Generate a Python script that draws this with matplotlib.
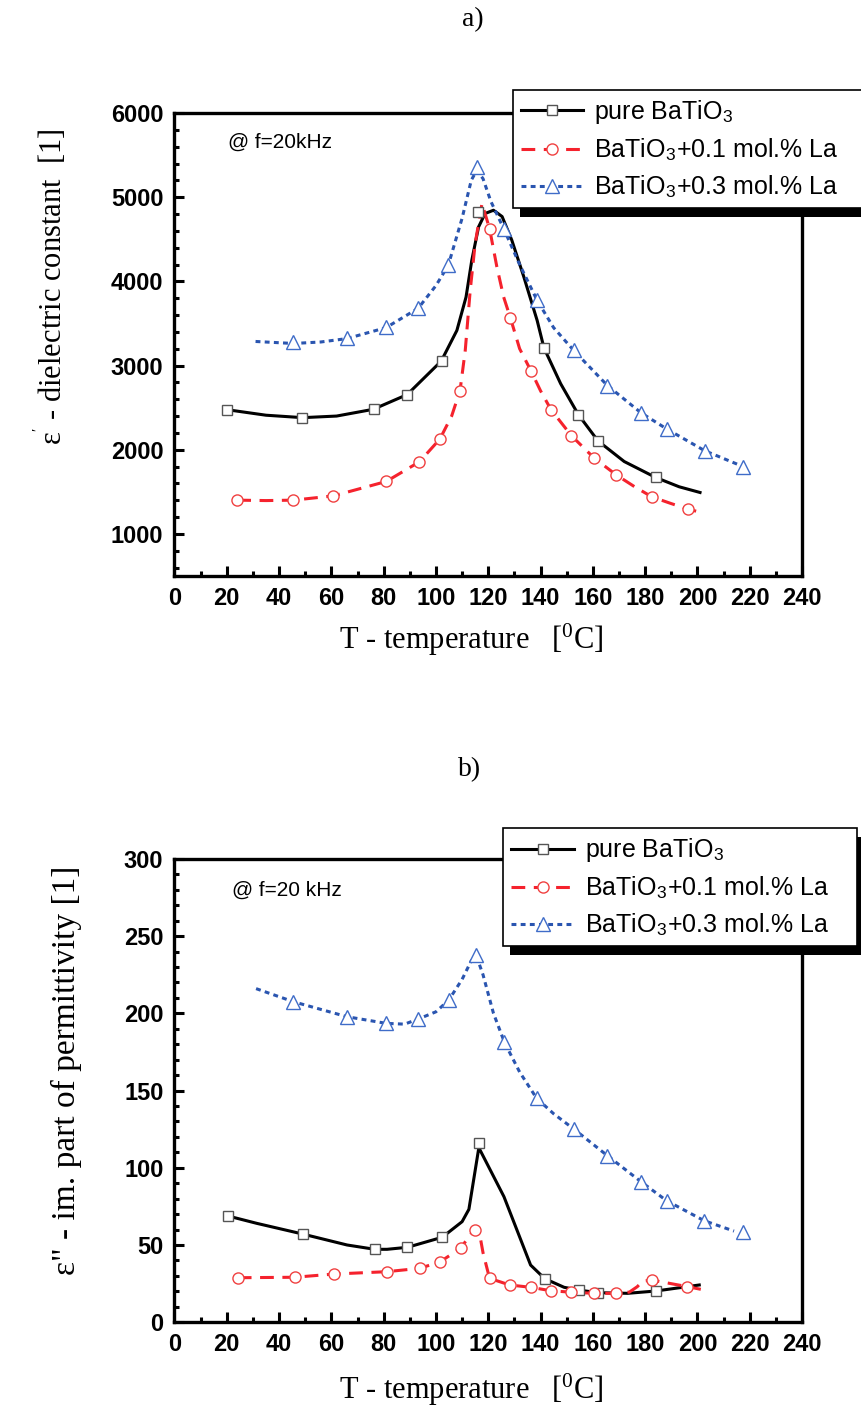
import matplotlib.pyplot as plt
from matplotlib.lines import Line2D
from matplotlib.patches import Rectangle
from matplotlib.ticker import MultipleLocator
from matplotlib.transforms import IdentityTransform

plt.rcParams["font.family"] = ["Liberation Sans", "DejaVu Sans"]
plt.rcParams["mathtext.fontset"] = "stix"

# ---- a) real part, 20 kHz ----
# pure BaTiO3: fitted curve and measured points
a_pure_t = [20, 35, 49, 62, 76, 89, 102, 108, 111.5, 113.7, 116.3, 118.8, 122,
            125.3, 129, 133.6, 138.7, 141.3, 147.7, 154.5, 162, 172, 184, 193, 201]
a_pure_e = [2476, 2410, 2381, 2400, 2480, 2655, 3052, 3417, 3813, 4250, 4647, 4806,
            4845, 4770, 4490, 4054, 3536, 3210, 2784, 2415, 2104, 1860, 1671, 1560, 1492]
a_pure_pt_t = [20, 48.6, 76.3, 88.8, 102.2, 116, 141.5, 154.5, 162, 184.2]
a_pure_pt_e = [2476, 2381, 2480, 2655, 3052, 4825, 3210, 2415, 2104, 1671]

# BaTiO3 + 0.1 mol.% La
a_la1_t = [24, 35, 45.5, 60.8, 81, 93.7, 101.5, 106, 109.2, 111.2, 113.1, 115, 117.6,
           120.5, 123.3, 125.9, 128.5, 132, 136.4, 140, 144, 151.8, 160.5, 169, 176,
           182.6, 190, 196.4, 201.5]
a_la1_e = [1401, 1396, 1401, 1452, 1623, 1857, 2127, 2400, 2702, 3179, 3893, 4450, 4925,
           4627, 4171, 3813, 3563, 3200, 2933, 2700, 2476, 2167, 1901, 1700, 1560,
           1440, 1360, 1295, 1254]
a_la1_pt_t = [24, 45.5, 60.8, 81, 93.7, 101.5, 109.2, 120.5, 128.5, 136.4, 144, 151.8,
              160.5, 169, 182.6, 196.4]
a_la1_pt_e = [1401, 1401, 1452, 1623, 1857, 2127, 2702, 4627, 3563, 2933, 2476, 2167,
              1901, 1700, 1440, 1295]

# BaTiO3 + 0.3 mol.% La
a_la3_t = [31, 45.5, 56, 65.9, 80.9, 93.2, 100, 104.7, 110, 113.5, 115.6, 118, 121,
           125.9, 132, 138.7, 145, 152.7, 165.6, 178.5, 188.3, 202.8, 217.6]
a_la3_e = [3286, 3262, 3280, 3320, 3450, 3680, 3950, 4190, 4750, 5200, 5320, 5220, 4950,
           4627, 4200, 3774, 3450, 3179, 2762, 2437, 2246, 1988, 1798]
a_la3_pt_t = [45.5, 65.9, 80.9, 93.2, 104.7, 115.6, 125.9, 138.7, 152.7, 165.6, 178.5,
              188.3, 202.8, 217.6]
a_la3_pt_e = [3278, 3330, 3457, 3687, 4190, 5362, 4627, 3774, 3179, 2762, 2437, 2246,
              1988, 1798]

# ---- b) imaginary part, 20 kHz ----
b_pure_t = [20.4, 31.5, 49, 66, 76.6, 81.3, 89.1, 102.4, 110, 112.6, 116.4, 126, 136.2,
            141.6, 149, 154.7, 162, 173.3, 184.1, 200.7]
b_pure_e = [68.8, 64, 57.1, 50, 47.2, 47.2, 48.5, 55, 65.1, 73.1, 113, 81.3, 37,
            28.2, 22.6, 20.8, 19.1, 18.7, 20.2, 24.1]
b_pure_pt_t = [20.4, 49, 76.6, 89.1, 102.4, 116.4, 141.6, 154.7, 162, 184.1]
b_pure_pt_e = [68.8, 57.1, 47.2, 48.5, 55, 115.8, 28.2, 20.8, 19.1, 20.2]

b_la1_t = [24.2, 45.9, 61.1, 81.1, 93.9, 101.7, 109.4, 112.5, 115.1, 116.5, 118, 120.5,
           128.2, 136.2, 143.9, 151.8, 160.5, 169, 174, 177, 179, 182.5, 186, 196.2, 201.3]
b_la1_e = [28.8, 29.1, 31.2, 32.7, 34.9, 39.2, 47.9, 55, 61, 59, 45, 28.4,
           24.1, 22.6, 20.4, 19.4, 18.7, 18.7, 19.5, 23, 26.5, 27.3, 26.2, 23, 21.3]
b_la1_pt_t = [24.2, 45.9, 61.1, 81.1, 93.9, 101.7, 109.4, 115.1, 120.5, 128.2, 136.2,
              143.9, 151.8, 160.5, 169, 182.5, 196.2]
b_la1_pt_e = [28.8, 29.1, 31.2, 32.7, 34.9, 39.2, 47.9, 60, 28.4, 24.1, 22.6,
              20.4, 19.4, 18.7, 18.7, 27.3, 23]

b_la3_t = [31.2, 45.5, 66, 81, 88, 93.2, 100, 104.9, 110, 113.5, 115.5, 118, 122,
           126.2, 132, 138.5, 145, 152.8, 165.6, 178.4, 188.2, 202.6, 214]
b_la3_e = [216, 207.5, 197.8, 193.5, 193, 196.3, 201, 208.6, 222, 234, 237, 225, 200,
           181.2, 162, 145, 135, 125, 107.8, 91, 78.7, 65.7, 59]
b_la3_pt_t = [45.5, 66, 81, 93.2, 104.9, 115.5, 126.2, 138.5, 152.8, 165.6, 178.4,
              188.2, 202.6, 217.3]
b_la3_pt_e = [207.5, 197.8, 193.5, 196.3, 208.6, 237.8, 181.2, 145, 124.9, 107.8, 91,
              78.7, 65.7, 58.4]

labels = ["pure BaTiO$_\\mathregular{3}$",
          "BaTiO$_\\mathregular{3}$+0.1 mol.% La",
          "BaTiO$_\\mathregular{3}$+0.3 mol.% La"]

# styles: line colour, dashes, marker, marker edge colour
STYLES = [
    dict(color="black", dashes=(None, None), marker="s", mec="#555555", ms=7.5),
    dict(color="#f5222d", dashes=(4.5, 2.8), marker="o", mec="#f04040", ms=8),
    dict(color="#2a55b0", dashes=(1.6, 1.4), marker="^", mec="#3f6cc8", ms=10),
]

W, H = 862, 1410


def style_axes(ax, ymin, ymax, ymajor, yminor):
    ax.set_xlim(0, 240)
    ax.set_ylim(ymin, ymax)
    ax.xaxis.set_major_locator(MultipleLocator(20))
    ax.xaxis.set_minor_locator(MultipleLocator(10))
    ax.yaxis.set_major_locator(MultipleLocator(ymajor))
    ax.yaxis.set_minor_locator(MultipleLocator(yminor))
    ax.tick_params(which="both", direction="in", width=2.2)
    ax.tick_params(which="major", length=7, labelsize=17, pad=8)
    ax.tick_params(which="minor", length=3.5)
    for sp in ax.spines.values():
        sp.set_linewidth(2.4)


def bold_ticks(ax):
    for lab in ax.get_xticklabels() + ax.get_yticklabels():
        lab.set_fontweight("bold")


def draw_panel(ax, series):
    for (lt, le, pt, pe), st in zip(series, STYLES):
        ln, = ax.plot(lt, le, color=st["color"], lw=2.2, zorder=2)
        if st["dashes"][0] is not None:
            ln.set_dashes(st["dashes"])
        ax.plot(pt, pe, ls="none", marker=st["marker"], ms=st["ms"], mfc="white",
                mec=st["mec"], mew=1.0, zorder=3)


def add_legend(fig, ax, x0, y0, x1):
    handles = []
    for st in STYLES:
        h = Line2D([], [], color=st["color"], lw=2.2, marker=st["marker"],
                   ms=st["ms"], mfc="white", mec=st["mec"], mew=1.0)
        if st["dashes"][0] is not None:
            h.set_dashes(st["dashes"])
        handles.append(h)
    leg = ax.legend(handles, labels, loc="upper left", mode="expand",
                    bbox_to_anchor=(x0 / W, 1 - y0 / H, (x1 - x0) / W, 0),
                    bbox_transform=fig.transFigure, borderaxespad=0,
                    fontsize=18, fancybox=False, framealpha=1, edgecolor="black",
                    handlelength=2.5, handletextpad=0.45, labelspacing=0.42,
                    borderpad=0.32, numpoints=1)
    leg.get_frame().set_linewidth(1.2)
    leg.set_zorder(10)
    return leg


fig = plt.figure(figsize=(W / 100, H / 100), dpi=100)

ax_a = fig.add_axes([174.5 / W, 1 - 576 / H, (802 - 174.5) / W, (576 - 113) / H])
draw_panel(ax_a, [(a_pure_t, a_pure_e, a_pure_pt_t, a_pure_pt_e),
                  (a_la1_t, a_la1_e, a_la1_pt_t, a_la1_pt_e),
                  (a_la3_t, a_la3_e, a_la3_pt_t, a_la3_pt_e)])
style_axes(ax_a, 500, 6000, 1000, 200)
ax_a.set_yticks([1000, 2000, 3000, 4000, 5000, 6000])
bold_ticks(ax_a)
ax_a.text(0.085, 0.937, "@ f=20kHz", transform=ax_a.transAxes, fontsize=15, va="center")

ax_b = fig.add_axes([174.5 / W, 1 - 1322.2 / H, (802 - 174.5) / W, (1322.2 - 858.9) / H])
draw_panel(ax_b, [(b_pure_t, b_pure_e, b_pure_pt_t, b_pure_pt_e),
                  (b_la1_t, b_la1_e, b_la1_pt_t, b_la1_pt_e),
                  (b_la3_t, b_la3_e, b_la3_pt_t, b_la3_pt_e)])
style_axes(ax_b, 0, 300, 50, 10)
bold_ticks(ax_b)
ax_b.text(0.092, 0.933, "@ f=20 kHz", transform=ax_b.transAxes, fontsize=15, va="center")

# titles and axis labels (Times-like)
serif = ["Liberation Serif", "DejaVu Serif"]
fig.text(473 / W, 1 - 20 / H, "a)", ha="center", va="center", family=serif, fontsize=20)
fig.text(470 / W, 1 - 770 / H, "b)", ha="center", va="center", family=serif, fontsize=20)
xlab = "T - temperature   [$\\mathregular{^{0}}$C]"
fig.text(471 / W, 1 - 640 / H, xlab, ha="center", va="center", family=serif, fontsize=22)
fig.text(471 / W, 1 - 1390 / H, xlab, ha="center", va="center", family=serif, fontsize=22)
fig.text(51 / W, 1 - 287 / H, "ε$\\mathregular{^{'}}$ - dielectric constant  [1]",
         ha="center", va="center", rotation=90, family=serif, fontsize=22)
fig.text(66 / W, 1 - 1070 / H, "ε\" - im. part of permittivity [1]",
         ha="center", va="center", rotation=90, family=serif, fontsize=24)

leg_a = add_legend(fig, ax_a, 512.7, 90, 862)
leg_b = add_legend(fig, ax_b, 503.3, 828.3, 856.7)

# solid black drop shadow behind each legend box
fig.canvas.draw()
for ax, leg in [(ax_a, leg_a), (ax_b, leg_b)]:
    bb = leg.get_window_extent()
    ax.add_patch(Rectangle((bb.x0 + 7, bb.y0 - 9), bb.width, bb.height,
                           transform=IdentityTransform(), facecolor="black",
                           edgecolor="none", zorder=9, clip_on=False))

fig.savefig("out.png", dpi=100)
